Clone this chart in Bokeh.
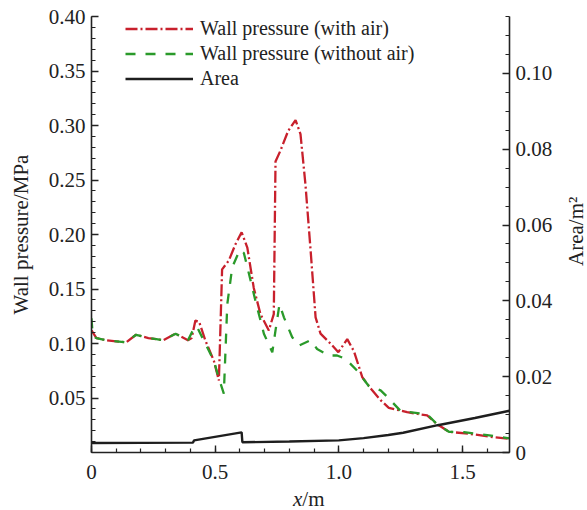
import math
from bokeh.plotting import figure
from bokeh.layouts import column, row
from bokeh.models import (Range1d, LinearAxis, FixedTicker, Legend, LegendItem,
                          Div, CustomJSTickFormatter)
from bokeh.embed import file_html
from bokeh.resources import INLINE

# ---- data ----
x_air = [0, 0.02, 0.06, 0.1, 0.14, 0.18, 0.23, 0.29, 0.34, 0.39, 0.405, 0.42, 0.435,
         0.46, 0.495, 0.515, 0.522, 0.528, 0.555, 0.582, 0.607, 0.63, 0.656, 0.683,
         0.717, 0.737, 0.744, 0.764, 0.795, 0.825, 0.845, 0.865, 0.886, 0.906, 0.926,
         0.966, 0.998, 1.034, 1.061, 1.095, 1.135, 1.169, 1.202, 1.276, 1.357, 1.397,
         1.445, 1.533, 1.627, 1.69]
p_air = [0.112, 0.105, 0.103, 0.102, 0.101, 0.108, 0.105, 0.103, 0.109, 0.103, 0.105,
         0.121, 0.120, 0.103, 0.084, 0.066, 0.12, 0.168, 0.176, 0.191, 0.202, 0.188,
         0.151, 0.127, 0.112, 0.127, 0.267, 0.277, 0.295, 0.305, 0.292, 0.246, 0.185,
         0.124, 0.109, 0.100, 0.092, 0.104, 0.093, 0.069, 0.057, 0.048, 0.041, 0.037,
         0.034, 0.026, 0.019, 0.017, 0.014, 0.0125]

x_noair = [0, 0.005, 0.02, 0.06, 0.1, 0.14, 0.18, 0.23, 0.29, 0.34, 0.39, 0.41, 0.425,
           0.46, 0.495, 0.515, 0.535, 0.549, 0.569, 0.6, 0.616, 0.643, 0.663, 0.697,
           0.731, 0.744, 0.76, 0.778, 0.811, 0.838, 0.886, 0.912, 0.96, 0.993, 1.027,
           1.074, 1.121, 1.169, 1.196, 1.25, 1.357, 1.397, 1.445, 1.506, 1.60, 1.69]
p_noair = [0.123, 0.107, 0.105, 0.103, 0.102, 0.101, 0.108, 0.105, 0.103, 0.109, 0.103,
           0.112, 0.116, 0.100, 0.084, 0.068, 0.054, 0.136, 0.170, 0.186, 0.183, 0.158,
           0.139, 0.109, 0.092, 0.112, 0.136, 0.124, 0.106, 0.098, 0.103, 0.095, 0.089,
           0.089, 0.086, 0.075, 0.061, 0.057, 0.051, 0.038, 0.035, 0.026, 0.019, 0.0186,
           0.016, 0.013]

x_area = [0, 0.41, 0.415, 0.607, 0.61, 0.8, 1.0, 1.1, 1.2, 1.26, 1.4, 1.55, 1.69]
area = [0.0025, 0.0026, 0.0032, 0.0053, 0.0027, 0.0029, 0.0032, 0.0038, 0.0046,
        0.0052, 0.0072, 0.0091, 0.011]

x_ticks = [0, 0.5, 1.0, 1.5]
p_ticks = [0.05, 0.10, 0.15, 0.20, 0.25, 0.30, 0.35, 0.40]
a_ticks = [0, 0.02, 0.04, 0.06, 0.08, 0.10]

FONT = "Liberation Serif"
RED = "#c8202c"
GREEN = "#2a9a2a"
BLACK = "#1e1e1e"
TXT = "#222222"

p = figure(width=565, height=488, x_range=Range1d(0, 1.69), y_range=Range1d(0, 0.40),
           output_backend="svg", toolbar_location=None,
           min_border_left=91, min_border_right=56, min_border_top=16,
           min_border_bottom=36, margin=(0, 0, 0, 0))
p.outline_line_color = None
p.grid.visible = False
p.extra_y_ranges = {"area": Range1d(0, 0.115)}

r_air = p.line(x_air, p_air, line_color=RED, line_width=2.3, line_dash="12 3 2 3")
r_noair = p.line(x_noair, p_noair, line_color=GREEN, line_width=2.3, line_dash="10 10")
r_area = p.line(x_area, area, line_color=BLACK, line_width=2.4, y_range_name="area")

def style(ax):
    ax.axis_line_width = 1.6
    ax.axis_line_color = TXT
    ax.major_tick_line_color = TXT
    ax.minor_tick_line_color = TXT
    ax.major_tick_line_width = 1.4
    ax.minor_tick_line_width = 1.2
    ax.major_tick_in = 7
    ax.major_tick_out = 0
    ax.minor_tick_in = 4
    ax.minor_tick_out = 0
    ax.major_label_text_font = FONT
    ax.major_label_text_font_size = "21px"
    ax.major_label_text_color = TXT
    ax.axis_label_text_font = FONT
    ax.axis_label_text_font_size = "21px"
    ax.axis_label_text_font_style = "normal"
    ax.axis_label_text_color = TXT

xa = p.xaxis[0]
xa.ticker = FixedTicker(ticks=x_ticks, minor_ticks=[i / 10 for i in range(17)])
xa.formatter = CustomJSTickFormatter(code="return tick == 0 ? '0' : tick.toFixed(1);")
style(xa)
xa.major_label_standoff = 12

ya = p.yaxis[0]
ya.ticker = FixedTicker(ticks=p_ticks, minor_ticks=[i / 100 for i in range(41)])
ya.formatter = CustomJSTickFormatter(code="return tick.toFixed(2);")
style(ya)
ya.major_label_standoff = 6
ya.axis_label = "Wall pressure/MPa"
ya.axis_label_standoff = 13

ra = LinearAxis(y_range_name="area")
ra.ticker = FixedTicker(ticks=a_ticks, minor_ticks=[i * 0.005 for i in range(24)])
ra.formatter = CustomJSTickFormatter(code="return tick == 0 ? '0' : tick.toFixed(2);")
style(ra)
ra.major_label_standoff = 6
p.add_layout(ra, "right")

legend = Legend(items=[LegendItem(label="Wall pressure (with air)", renderers=[r_air]),
                       LegendItem(label="Wall pressure (without air)", renderers=[r_noair]),
                       LegendItem(label="Area", renderers=[r_area])],
                location=(34, 436 - 75), orientation="vertical")
legend.border_line_color = None
legend.background_fill_alpha = 0
legend.padding = 0
legend.margin = 0
legend.spacing = 0
legend.label_height = 25
legend.glyph_height = 25
legend.glyph_width = 68
legend.label_standoff = 7
legend.label_text_font = FONT
legend.label_text_font_size = "20px"
legend.label_text_color = TXT
p.add_layout(legend)

# x-axis title with italic x, as real text below the figure
xtitle = Div(text="<i>x</i>/m", width=565, height=22, margin=(0, 0, 0, 0),
             styles={"font-family": "'Liberation Serif', serif", "font-size": "21px",
                     "color": TXT, "padding-left": "293px", "line-height": "22px",
                     "white-space": "nowrap"})

# right-hand title, reading bottom to top
atitle = Div(text=("<div style=\"writing-mode:vertical-rl;transform:rotate(180deg);"
                   "height:430px;width:22px;text-align:center;line-height:22px;"
                   "font-family:'Liberation Serif',serif;font-size:21px;color:#222222;"
                   "white-space:nowrap;\">Area/m\u00b2</div>"),
             width=22, height=430, margin=(16, 0, 0, 0))

layout = row(column(p, xtitle, spacing=0, margin=(0, 0, 0, 0)), atitle,
             spacing=0, margin=(0, 0, 0, 0))

open("out.html", "w").write(file_html(layout, INLINE))
